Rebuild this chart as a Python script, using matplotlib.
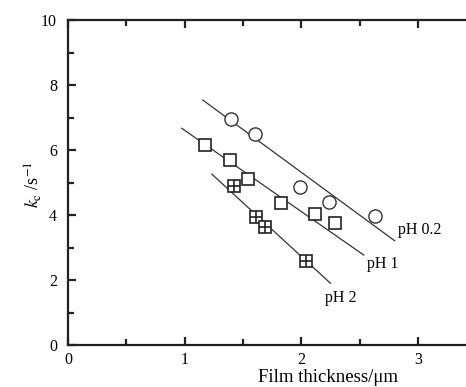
import numpy as np
import matplotlib.pyplot as plt
from matplotlib.ticker import MultipleLocator

plt.rcParams['font.family'] = ['Liberation Serif', 'DejaVu Serif']
plt.rcParams['mathtext.fontset'] = 'stix'

# pH 0.2 (circles)
x_ph02 = [1.40, 1.60, 1.99, 2.235, 2.635]
y_ph02 = [6.95, 6.51, 4.87, 4.39, 3.97]
# pH 1 (squares)
x_ph1 = [1.175, 1.39, 1.54, 1.83, 2.12, 2.285]
y_ph1 = [6.15, 5.69, 5.10, 4.38, 4.02, 3.76]
# pH 2 (crossed squares)
x_ph2 = [1.42, 1.61, 1.685, 2.04]
y_ph2 = [4.89, 3.93, 3.62, 2.59]

# fitted lines (start, end)
fit_x = {'pH 0.2': [1.155, 2.80], 'pH 1': [0.975, 2.535], 'pH 2': [1.233, 2.25]}
fit_y = {'pH 0.2': [7.54, 3.21], 'pH 1': [6.67, 2.77], 'pH 2': [5.26, 1.90]}
lab_pos = {'pH 0.2': (2.825, 3.54), 'pH 1': (2.56, 2.49), 'pH 2': (2.205, 1.44)}

fig = plt.figure(figsize=(4.66, 3.87), dpi=100)
ax = fig.add_axes([0.146, 0.1085, 0.856, 0.8395])

for k in fit_x:
    ax.plot(fit_x[k], fit_y[k], color='#333333', lw=0.9, zorder=1)
    ax.text(lab_pos[k][0], lab_pos[k][1], k, fontsize=11.5, va='center', ha='left')

ms = 9.5
ax.plot(x_ph02, y_ph02, 'o', ms=ms, mfc='white', mec='#333333', mew=1.0, zorder=3)
ax.plot(x_ph1, y_ph1, 's', ms=ms - 0.5, mfc='white', mec='#222222', mew=1.2, zorder=3)
ax.plot(x_ph2, y_ph2, 's', ms=ms - 1.5, mfc='white', mec='#222222', mew=1.2, zorder=3)
ax.plot(x_ph2, y_ph2, '+', ms=ms - 1.5, mec='#222222', mew=1.2, zorder=4)

ax.set_xlim(0, 3.42)
ax.set_ylim(0, 10)
ax.xaxis.set_major_locator(MultipleLocator(1))
ax.xaxis.set_minor_locator(MultipleLocator(0.5))
ax.yaxis.set_major_locator(MultipleLocator(2))
ax.yaxis.set_minor_locator(MultipleLocator(1))
ax.spines['right'].set_visible(False)
for s in ['left', 'bottom', 'top']:
    ax.spines[s].set_linewidth(1.6)
    ax.spines[s].set_color('#222222')
ax.tick_params(which='both', direction='in', top=True, right=False, width=1.6,
               color='#222222', labelsize=11.5)
ax.tick_params(which='major', length=6)
ax.tick_params(which='minor', length=4)
ax.tick_params(axis='y', pad=8)
ax.tick_params(axis='x', pad=5)

ax.set_xlabel('Film thickness/\u03bcm', fontsize=13.5)
ax.xaxis.set_label_coords((328 - 68) / 398.6, -0.075)
ax.set_ylabel(r'$k_{\rm c}$ /s$^{-1}$', fontsize=13)
ax.yaxis.set_label_coords(-0.06, 0.495)

plt.savefig('out.png', dpi=100)
